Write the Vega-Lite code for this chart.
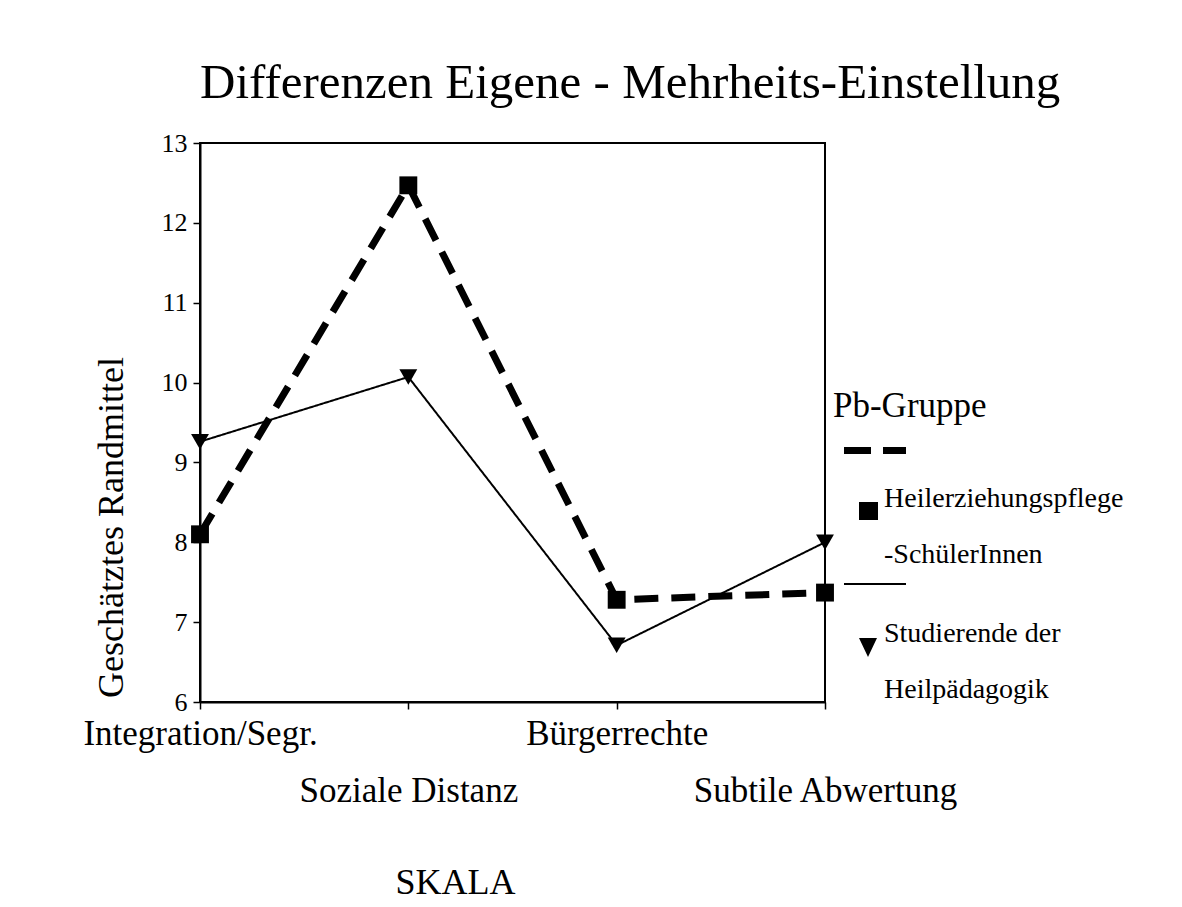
{
  "$schema": "https://vega.github.io/schema/vega-lite/v6.json",
  "autosize": "none",
  "width": 625,
  "height": 559,
  "padding": {"left": 200, "top": 143, "right": 357, "bottom": 205},
  "background": "white",
  "config": {
    "font": "Liberation Serif",
    "view": {"stroke": "black", "strokeWidth": 2},
    "style": {"guide-label": {"lineHeight": 56}},
    "axis": {"grid": false, "domainColor": "black", "domainWidth": 2, "tickColor": "black", "tickWidth": 1.5, "tickSize": 7, "labelColor": "black", "titleColor": "black", "titleFontWeight": "normal"}
  },
  "title": {
    "text": "Differenzen Eigene - Mehrheits-Einstellung",
    "font": "Liberation Serif",
    "fontSize": 49,
    "fontWeight": "normal",
    "color": "black",
    "anchor": "start",
    "frame": "group",
    "baseline": "alphabetic",
    "offset": -22
  },
  "data": {
    "values": [
      {"skala": "Integration/Segr.", "gruppe": "Heilerziehungspflege-SchülerInnen", "wert": 8.1},
      {"skala": "Soziale Distanz", "gruppe": "Heilerziehungspflege-SchülerInnen", "wert": 12.47},
      {"skala": "Bürgerrechte", "gruppe": "Heilerziehungspflege-SchülerInnen", "wert": 7.28},
      {"skala": "Subtile Abwertung", "gruppe": "Heilerziehungspflege-SchülerInnen", "wert": 7.37},
      {"skala": "Integration/Segr.", "gruppe": "Studierende der Heilpädagogik", "wert": 9.26},
      {"skala": "Soziale Distanz", "gruppe": "Studierende der Heilpädagogik", "wert": 10.07},
      {"skala": "Bürgerrechte", "gruppe": "Studierende der Heilpädagogik", "wert": 6.71},
      {"skala": "Subtile Abwertung", "gruppe": "Studierende der Heilpädagogik", "wert": 8.0}
    ]
  },
  "encoding": {
    "x": {
      "field": "skala",
      "type": "nominal",
      "sort": null,
      "scale": {"type": "point", "padding": 0},
      "axis": {
        "title": "SKALA",
        "titleFontSize": 36,
        "titleX": 255,
        "titleY": 191,
        "titleAlign": "center",
        "titleBaseline": "alphabetic",
        "labelAngle": 0,
        "labelFontSize": 35,
        "labelAlign": "center",
        "labelBaseline": "alphabetic",
        "labelPadding": 35,
        "labelLineHeight": 57,
        "labelOverlap": false,
        "labelBound": false,
        "labelFlush": false,
        "labelLimit": 500,
        "labelExpr": "indexof(['Soziale Distanz','Subtile Abwertung'], datum.value) >= 0 ? ['', datum.label] : datum.label"
      }
    },
    "y": {
      "field": "wert",
      "type": "quantitative",
      "scale": {"domain": [6, 13], "nice": false, "zero": false},
      "axis": {
        "title": "Geschätztes Randmittel",
        "titleFontSize": 36,
        "titleX": -78,
        "titleY": 384,
        "titleAlign": "center",
        "titleAngle": -90,
        "titleBaseline": "alphabetic",
        "values": [6, 7, 8, 9, 10, 11, 12, 13],
        "labelFontSize": 26,
        "labelPadding": 6
      }
    }
  },
  "resolve": {"scale": {"shape": "independent"}, "legend": {"shape": "independent"}},
  "layer": [
    {
      "mark": {"type": "line", "color": "black"},
      "encoding": {
        "detail": {"field": "gruppe"},
        "strokeDash": {
          "field": "gruppe",
          "type": "nominal",
          "scale": {"domain": ["Studierende der Heilpädagogik", "Heilerziehungspflege-SchülerInnen"], "range": [[1, 0], [24, 13]]},
          "legend": null
        },
        "strokeWidth": {
          "field": "gruppe",
          "type": "nominal",
          "scale": {"domain": ["Studierende der Heilpädagogik", "Heilerziehungspflege-SchülerInnen"], "range": [2, 7]},
          "legend": null
        }
      }
    },
    {
      "mark": {"type": "point", "filled": true, "color": "black", "opacity": 1, "size": 320},
      "encoding": {
        "shape": {
          "field": "gruppe",
          "type": "nominal",
          "scale": {"domain": ["Studierende der Heilpädagogik", "Heilerziehungspflege-SchülerInnen"], "range": ["triangle-down", "square"]},
          "legend": null
        }
      }
    },
    {
      "mark": {"type": "point", "filled": true, "color": "black", "opacity": 0, "size": 4},
      "encoding": {
        "shape": {
          "field": "gruppe",
          "type": "nominal",
          "scale": {
            "domain": ["Heilerziehungspflege-SchülerInnen", "Studierende der Heilpädagogik"],
            "range": ["M-25,-60H2V-53H-25Z M14,-60H37V-53H14Z M-10,-5H9V13H-10Z", "M-25,-59H37V-57H-25Z M-10,-4H8L-1,15Z"]
          },
          "legend": {
            "title": "Pb-Gruppe",
            "orient": "none",
            "legendX": 633,
            "legendY": 246,
            "padding": 0,
            "titleFont": "Liberation Serif",
            "titleFontSize": 35,
            "titleFontWeight": "normal",
            "titleColor": "black",
            "titlePadding": 69,
            "labelFont": "Liberation Serif",
            "labelFontSize": 28,
            "labelColor": "black",
            "labelBaseline": "alphabetic",
            "labelOffset": 1,
            "labelLimit": 400,
            "symbolOffset": 22,
            "symbolSize": 4,
            "symbolFillColor": "black",
            "symbolStrokeWidth": 0,
            "symbolOpacity": 1,
            "rowPadding": 14,
            "labelExpr": "datum.value == 'Heilerziehungspflege-SchülerInnen' ? ['Heilerziehungspflege', '-SchülerInnen'] : ['Studierende der', 'Heilpädagogik']",
            "encode": {
              "labels": {"lineHeight": {"value": 56}},
              "symbols": {
                "size": {"value": 4},
                "opacity": {"value": 1},
                "fill": {"value": "black"},
                "fillOpacity": {"value": 1},
                "strokeWidth": {"value": 0}
              }
            }
          }
        }
      }
    }
  ]
}
